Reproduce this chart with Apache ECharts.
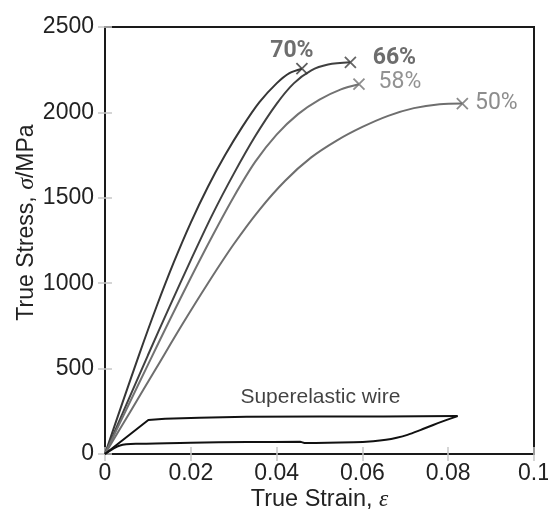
<!DOCTYPE html>
<html>
<head>
<meta charset="utf-8">
<script src="https://cdn.jsdelivr.net/npm/echarts@6/dist/echarts.min.js"></script>
<style>
html,body{margin:0;padding:0;background:#fff;}
#c{width:548px;height:510px;}
</style>
</head>
<body>
<div id="c"></div>
<script>
// ---- data (true strain, true stress MPa) ----
var curve70 = [[0,0],[0.004,295],[0.008,585],[0.012,862],[0.016,1120],[0.020,1355],[0.024,1565],[0.028,1750],[0.032,1915],[0.036,2060],[0.040,2170],[0.043,2230],[0.0459,2256]];
var curve66 = [[0,0],[0.005,290],[0.010,578],[0.015,860],[0.020,1135],[0.025,1400],[0.030,1640],[0.035,1860],[0.040,2050],[0.044,2170],[0.048,2245],[0.052,2280],[0.0572,2293]];
var curve58 = [[0,0],[0.005,262],[0.010,522],[0.015,780],[0.020,1032],[0.025,1275],[0.030,1505],[0.035,1710],[0.040,1870],[0.045,1990],[0.050,2075],[0.055,2135],[0.0592,2165]];
var curve50 = [[0,0],[0.006,252],[0.012,505],[0.018,758],[0.024,1000],[0.030,1228],[0.036,1430],[0.042,1600],[0.048,1735],[0.054,1835],[0.060,1915],[0.066,1980],[0.072,2025],[0.078,2048],[0.0833,2052]];
var superLoad = [[0,0],[0.0101,199],[0.0140,206],[0.0220,212],[0.0330,218],[0.0500,219],[0.0650,219],[0.0822,222]];
var superUnload = [[0.0822,222],[0.0795,198],[0.0765,170],[0.0735,140],[0.0705,112],[0.0680,95],[0.0655,83],[0.0625,75],[0.0580,69],[0.0465,65],[0.0455,71],[0.0330,70],[0.0200,66],[0.0080,60],[0.0035,50],[0,0]];
var curveNames = ['70%','66%','58%','50%'];
var superName = 'Superelastic wire';
var superLabelAt = [0.0502, 333];
var xTicks = {min:0, max:0.1, interval:0.02};
var yTicks = {min:0, max:2500, interval:500};

var curves = [curve70, curve66, curve58, curve50];
var lineColors = ['#363636','#404040','#727272','#6e6e6e'];
var labelColors = ['#4a4a4a','#484848','#777777','#707070'];
var labelWeights = ['bold','bold','normal','normal'];
var labelOffsets = [[-10,-17],[44,-4],[41,-2],[34,0]];

var chart = echarts.init(document.getElementById('c'), null, {renderer:'canvas'});
var cross = 'path://M0,0L10,10M10,0L0,10';

var series = [];
curves.forEach(function(d,i){
  series.push({type:'line', data:d, smooth:0.3, showSymbol:false, silent:true,
    lineStyle:{color:lineColors[i], width:2}, z:3});
});
series.push({type:'line', data:superLoad, smooth:false, showSymbol:false, silent:true,
  lineStyle:{color:'#111', width:2}, z:3});
series.push({type:'line', data:superUnload, smooth:0.3, showSymbol:false, silent:true,
  lineStyle:{color:'#111', width:2}, z:3});
series.push({type:'scatter', symbol:cross, symbolSize:11, silent:true, z:4,
  itemStyle:{color:'none', borderWidth:1.8},
  data: curves.map(function(d,i){
    var p = d[d.length-1];
    return {value:p, name:curveNames[i],
      itemStyle:{borderColor:lineColors[i]},
      label:{show:true, formatter:curveNames[i], position:'inside', offset:labelOffsets[i],
        color:labelColors[i], fontWeight:labelWeights[i], fontSize:23, fontFamily:'Roboto'}};
  })
});
series.push({type:'scatter', symbolSize:1, silent:true, z:4, itemStyle:{color:'transparent'},
  data:[{value:superLabelAt, label:{show:true, formatter:superName, position:'inside',
    color:'#111', fontSize:21, fontFamily:'Liberation Sans, Arial'}}]});

var tickStyle = {show:true, inside:true, length:7, lineStyle:{color:'#c8c8c8', width:1.5}};
var option = {
  animation:false,
  backgroundColor:'#fff',
  grid:{left:105, right:14, top:27, bottom:56, outerBoundsMode:'none', containLabel:false,
    show:true, borderColor:'#1a1a1a', borderWidth:2, backgroundColor:'transparent'},
  xAxis:[{type:'value', min:xTicks.min, max:xTicks.max, interval:xTicks.interval,
      axisLine:{show:false}, axisTick:tickStyle, splitLine:{show:false},
      axisLabel:{color:'#222', fontSize:23, fontFamily:'Liberation Sans, Arial', margin:8, showMaxLabel:true},
      name:'True Strain, {i|ε}', nameLocation:'middle', nameGap:34, nameMoveOverlap:false,
      nameTextStyle:{color:'#222', fontSize:23.5, fontFamily:'Liberation Sans, Arial',
        rich:{i:{fontStyle:'italic', fontFamily:'Liberation Serif, serif', fontSize:23.5, color:'#222'}}}},
    {type:'value', position:'top', min:xTicks.min, max:xTicks.max, interval:xTicks.interval,
      axisLine:{show:false}, axisTick:tickStyle, axisLabel:{show:false}, splitLine:{show:false}}],
  yAxis:[{type:'value', min:yTicks.min, max:yTicks.max, interval:yTicks.interval,
      axisLine:{show:false}, axisTick:tickStyle, splitLine:{show:false},
      axisLabel:{color:'#222', fontSize:23, fontFamily:'Liberation Sans, Arial', margin:11,
        formatter:function(v){return String(v);}},
      name:'True Stress, {i|σ}/MPa', nameLocation:'middle', nameGap:66, nameMoveOverlap:false,
      nameTextStyle:{color:'#222', fontSize:23, fontFamily:'Liberation Sans, Arial', padding:[0,0,0,36],
        rich:{i:{fontStyle:'italic', fontFamily:'Liberation Serif, serif', fontSize:24, color:'#222'}}}},
    {type:'value', position:'right', min:yTicks.min, max:yTicks.max, interval:yTicks.interval,
      axisLine:{show:false}, axisTick:tickStyle, axisLabel:{show:false}, splitLine:{show:false}}],
  series:series
};
chart.setOption(option);
</script>
</body>
</html>
